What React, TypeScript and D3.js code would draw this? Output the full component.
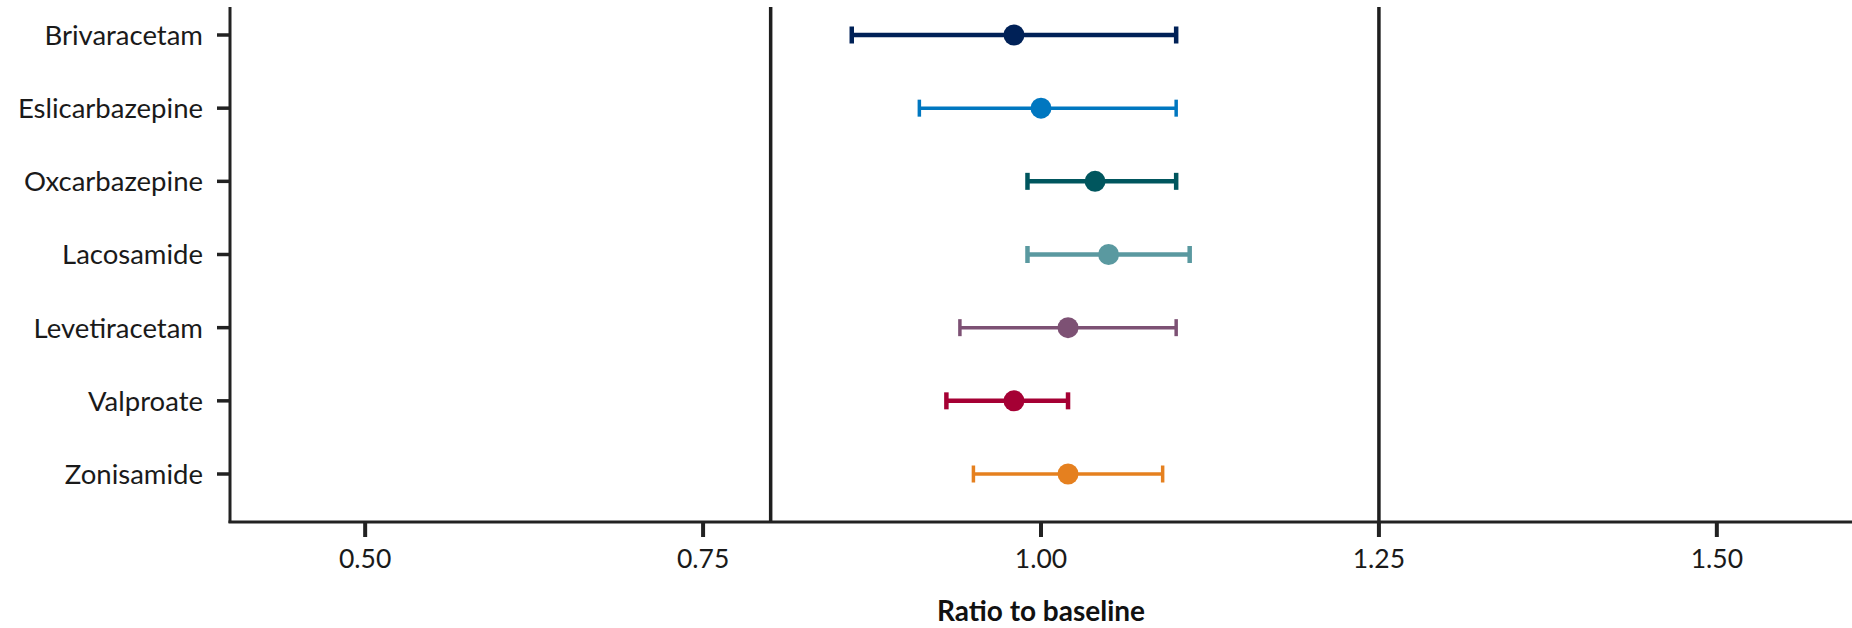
import React from 'react'
import * as d3 from 'd3'

// values: ratio to baseline, point and 95% CI
const drugs = [
  'Brivaracetam',
  'Eslicarbazepine',
  'Oxcarbazepine',
  'Lacosamide',
  'Levetiracetam',
  'Valproate',
  'Zonisamide'
]
const ratio = [0.98, 1.0, 1.04, 1.05, 1.02, 0.98, 1.02]
const lower = [0.86, 0.91, 0.99, 0.99, 0.94, 0.93, 0.95]
const upper = [1.1, 1.1, 1.1, 1.11, 1.1, 1.02, 1.09]
const colors = ['#002157', '#0077c0', '#00565e', '#5a99a0', '#7d5174', '#a50034', '#e5801f']
const strokeWidths = [4.5, 3.5, 4.5, 4.5, 3.5, 4.5, 3.5]
const xTicks = [0.5, 0.75, 1.0, 1.25, 1.5]
const refLines = [0.8, 1.25]

const width = 1852,
  height = 628,
  margin = { top: 7, right: 0, bottom: 106, left: 230 }

const font = 'Lato, "Noto Sans", sans-serif'

export default function App() {
  const x = d3
    .scaleLinear()
    .domain([0.4, 1.6])
    .range([margin.left, width - margin.right])

  const y = d3.scalePoint<string>().domain(drugs).range([35, 474])

  const axisY = height - margin.bottom
  const fmt = d3.format('.2f')

  return (
    <svg
      width={width}
      height={height}
      style={{ position: 'absolute', left: 0, top: 0, background: '#fff' }}
      fontFamily={font}>
      {/* reference lines */}
      {refLines.map(v => (
        <line
          key={v}
          x1={x(v)}
          x2={x(v)}
          y1={margin.top}
          y2={axisY}
          stroke='#1e1e1e'
          strokeWidth={3.5}
        />
      ))}

      {/* y axis */}
      <line x1={margin.left} x2={margin.left} y1={margin.top} y2={axisY + 1} stroke='#222' strokeWidth={3} />
      {drugs.map(d => (
        <g key={d} transform={`translate(0,${y(d)})`}>
          <line x1={margin.left - 13} x2={margin.left} stroke='#222' strokeWidth={3.5} />
          <text
            x={margin.left - 27}
            dy='0.36em'
            textAnchor='end'
            fontSize={27.5}
            fill='#1a1a1a'>
            {d}
          </text>
        </g>
      ))}

      {/* x axis */}
      <line x1={margin.left - 1.5} x2={width} y1={axisY} y2={axisY} stroke='#222' strokeWidth={3} />
      {xTicks.map(t => (
        <g key={t} transform={`translate(${x(t)},${axisY})`}>
          <line y1={0} y2={15} stroke='#222' strokeWidth={4} />
          <text y={46} textAnchor='middle' fontSize={26.5} fill='#1a1a1a'>
            {fmt(t)}
          </text>
        </g>
      ))}
      <text
        x={(margin.left + width) / 2}
        y={621}
        textAnchor='middle'
        fontSize={28}
        fontWeight='bold'
        fill='#111'>
        Ratio to baseline
      </text>

      {/* estimates with CI */}
      {drugs.map((d, i) => {
        const cy = y(d) as number
        const sw = strokeWidths[i]
        return (
          <g key={d} stroke={colors[i]} strokeWidth={sw}>
            <line x1={x(lower[i])} x2={x(upper[i])} y1={cy} y2={cy} />
            <line x1={x(lower[i])} x2={x(lower[i])} y1={cy - 8.5} y2={cy + 8.5} />
            <line x1={x(upper[i])} x2={x(upper[i])} y1={cy - 8.5} y2={cy + 8.5} />
            <circle cx={x(ratio[i])} cy={cy} r={10.5} fill={colors[i]} stroke='none' />
          </g>
        )
      })}
    </svg>
  )
}
